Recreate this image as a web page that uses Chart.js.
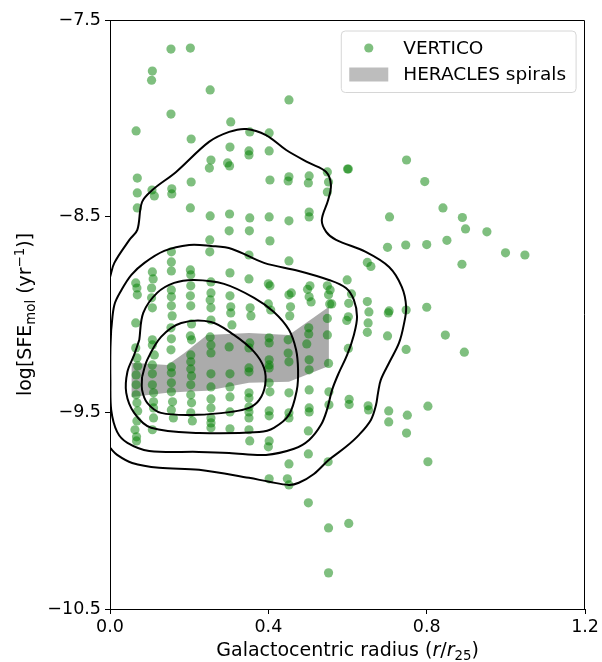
<!DOCTYPE html>
<html>
<head>
<meta charset="utf-8">
<script src="https://cdn.jsdelivr.net/npm/chart.js@4"></script>
<style>
html,body{margin:0;padding:0;background:#fff;}
canvas{display:block;}
</style>
</head>
<body>
<canvas id="c" width="602" height="662"></canvas>
<script>
// ---------------- DATA ----------------
const xTicks = [0.0, 0.4, 0.8, 1.2];
const yTicks = [-10.5, -9.5, -8.5, -7.5];

const verticoLabel = 'VERTICO';
const heraclesLabel = 'HERACLES spirals';

// VERTICO galaxies: galactocentric radius (r/r25)
const verticoR = [
0.066,0.069,0.069,0.069,0.065,0.068,0.069,0.065,0.065,0.068,0.070,0.066,0.066,0.066,0.068,0.070,0.068,0.063,0.067,0.067,
0.106,0.112,0.107,0.109,0.105,0.105,0.107,0.107,0.107,0.112,0.107,0.107,0.107,0.110,0.110,0.110,0.110,0.107,0.107,0.105,
0.154,0.154,0.156,0.156,0.155,0.155,0.155,0.155,0.155,0.155,0.157,0.154,0.155,0.154,0.155,0.155,0.155,0.155,0.158,0.155,0.160,
0.203,0.205,0.205,0.203,0.203,0.204,0.204,0.203,0.204,0.206,0.203,0.206,0.204,0.204,0.204,0.206,0.204,0.204,0.206,0.204,0.208,
0.253,0.255,0.251,0.253,0.252,0.252,0.255,0.255,0.253,0.255,0.255,0.253,0.255,0.255,0.255,0.255,0.255,0.255,0.255,0.255,0.255,
0.305,0.303,0.297,0.302,0.302,0.301,0.303,0.303,0.305,0.305,0.308,0.301,0.303,0.303,0.303,0.303,0.303,
0.353,0.351,0.351,0.353,0.352,0.351,0.351,0.354,0.356,0.353,0.351,0.351,0.351,0.351,0.351,0.351,0.351,0.351,0.351,0.353,
0.402,0.402,0.404,0.402,0.404,0.400,0.404,0.400,0.406,0.402,0.402,0.402,0.402,0.402,0.402,0.404,0.402,0.402,0.402,0.400,0.402,
0.452,0.452,0.450,0.452,0.452,0.458,0.452,0.456,0.454,0.450,0.450,0.452,0.452,0.452,0.452,0.452,0.448,0.452,
0.503,0.501,0.503,0.503,0.505,0.499,0.503,0.508,0.502,0.502,0.497,0.503,0.503,0.503,0.503,0.503,0.501,0.501,0.501,
0.549,0.552,0.549,0.549,0.556,0.552,0.555,0.560,0.549,0.549,0.552,0.553,0.553,0.551,0.552,0.552,
0.600,0.602,0.599,0.610,0.603,0.602,0.598,0.602,0.604,0.604,0.603,
0.650,0.659,0.650,0.654,0.652,0.650,0.652,0.653,
0.706,0.701,0.705,0.703,0.701,0.704,0.704,
0.749,0.747,0.748,0.748,0.751,0.749,
0.795,0.800,0.800,0.803,0.803,
0.841,0.851,0.847,0.890,0.898,0.889,0.895,0.952,0.999,1.048
];
// VERTICO: log SFE_mol (yr^-1)
const verticoSFE = [
-8.065,-8.305,-8.381,-8.457,-8.839,-8.865,-8.900,-9.043,-9.170,-9.221,-9.262,-9.308,-9.358,-9.409,-9.450,-9.491,-9.542,-9.587,-9.623,-9.644,
-8.366,-8.396,-8.783,-8.819,-8.865,-8.915,-8.966,-9.129,-9.155,-9.206,-9.257,-9.302,-9.358,-9.399,-9.445,-9.476,-9.527,-9.587,-7.760,-7.807,
-7.648,-7.979,-8.360,-8.386,-8.681,-8.732,-8.778,-8.875,-8.910,-8.956,-9.007,-9.068,-9.124,-9.180,-9.267,-9.297,-9.348,-9.394,-9.445,-9.486,-9.527,
-7.643,-8.106,-8.325,-8.457,-8.773,-8.798,-8.854,-8.905,-8.956,-9.048,-9.109,-9.129,-9.206,-9.241,-9.277,-9.313,-9.358,-9.409,-9.450,-9.501,-9.542,
-7.856,-8.213,-8.254,-8.498,-8.620,-8.681,-8.834,-8.890,-8.926,-8.966,-9.028,-9.114,-9.155,-9.196,-9.302,-9.369,-9.430,-9.476,-9.527,-9.552,-9.577,
-8.019,-8.147,-8.228,-8.243,-8.488,-8.574,-8.788,-8.905,-8.961,-8.992,-9.053,-9.165,-9.302,-9.369,-9.420,-9.496,-9.582,
-8.070,-8.167,-8.187,-8.508,-8.574,-8.697,-8.819,-8.966,-9.007,-9.145,-9.170,-9.272,-9.292,-9.399,-9.425,-9.471,-9.496,-9.527,-9.587,-9.644,
-8.075,-8.167,-8.315,-8.503,-8.625,-8.844,-8.854,-8.946,-8.977,-9.119,-9.145,-9.231,-9.257,-9.272,-9.348,-9.394,-9.491,-9.516,-9.644,-9.674,-9.837,
-7.907,-8.299,-8.320,-8.523,-8.727,-8.890,-8.900,-8.961,-9.007,-9.129,-9.196,-9.241,-9.399,-9.501,-9.527,-9.761,-9.837,-9.868,
-8.294,-8.330,-8.478,-8.503,-8.854,-8.872,-8.910,-8.936,-9.068,-9.099,-9.150,-9.231,-9.282,-9.384,-9.476,-9.496,-9.593,-9.710,-9.959,
-8.274,-8.325,-8.376,-8.854,-8.875,-8.900,-8.946,-8.946,-9.020,-9.104,-9.249,-9.394,-9.460,-9.750,-10.087,-10.316,
-8.259,-8.259,-8.824,-8.895,-8.943,-9.012,-9.030,-9.173,-9.432,-9.458,-10.064,
-8.735,-8.755,-8.934,-8.987,-9.043,-9.091,-9.465,-9.486,
-8.503,-8.658,-8.982,-8.992,-9.109,-9.491,-9.547,
-8.213,-8.646,-8.977,-9.178,-9.513,-9.604,
-8.323,-8.644,-8.963,-9.467,-9.750,
-8.457,-8.622,-9.105,-8.506,-8.564,-8.744,-9.192,-8.579,-8.686,-8.697
];

// HERACLES spirals band
const heraclesR     = [0.054, 0.145, 0.188, 0.245, 0.351, 0.452, 0.553];
const heraclesUpper = [-9.246,-9.257,-9.196,-9.104,-9.094,-9.104,-8.961];
const heraclesLower = [-9.420,-9.399,-9.394,-9.389,-9.348,-9.343,-9.262];

// Density contours (outer to inner)
const contour1R = [0.000,0.011,0.049,0.069,0.081,0.107,0.167,0.250,0.301,0.344,0.394,0.445,0.503,0.546,0.558,0.551,0.535,0.546,0.571,0.646,0.705,0.737,0.748,0.742,0.730,0.705,0.684,0.677,0.672,0.659,0.629,0.596,0.553,0.515,0.477,0.452,0.402,0.351,0.225,0.124,0.056,0.018,0.000];
const contour1SFE = [-8.810,-8.737,-8.620,-8.569,-8.427,-8.366,-8.274,-8.121,-8.070,-8.055,-8.086,-8.162,-8.228,-8.274,-8.340,-8.417,-8.518,-8.579,-8.620,-8.681,-8.758,-8.859,-8.961,-9.053,-9.145,-9.246,-9.333,-9.399,-9.460,-9.537,-9.613,-9.674,-9.740,-9.812,-9.857,-9.868,-9.852,-9.832,-9.791,-9.781,-9.756,-9.715,-9.679];
const contour2R = [0.003,0.011,0.029,0.054,0.087,0.137,0.200,0.255,0.308,0.389,0.477,0.553,0.596,0.616,0.624,0.616,0.599,0.578,0.561,0.548,0.533,0.503,0.465,0.394,0.301,0.225,0.099,0.044,0.018,0.003,0.001,0.001,0.003];
const contour2SFE = [-9.078,-8.951,-8.875,-8.798,-8.737,-8.676,-8.646,-8.651,-8.666,-8.737,-8.778,-8.824,-8.865,-8.926,-9.012,-9.104,-9.206,-9.297,-9.384,-9.486,-9.562,-9.639,-9.684,-9.715,-9.705,-9.700,-9.695,-9.654,-9.598,-9.486,-9.333,-9.180,-9.078];
const contour3R = [0.074,0.084,0.119,0.162,0.213,0.288,0.364,0.414,0.452,0.470,0.475,0.472,0.452,0.414,0.377,0.225,0.104,0.061,0.041,0.044,0.061,0.074];
const contour3SFE = [-9.129,-8.992,-8.890,-8.839,-8.824,-8.844,-8.915,-8.987,-9.078,-9.180,-9.282,-9.384,-9.511,-9.577,-9.598,-9.603,-9.577,-9.501,-9.399,-9.292,-9.206,-9.129];
const contour4R = [0.081,0.094,0.129,0.180,0.255,0.313,0.364,0.389,0.392,0.377,0.351,0.306,0.220,0.129,0.094,0.081,0.081];
const contour4SFE = [-9.318,-9.231,-9.114,-9.043,-9.038,-9.104,-9.190,-9.272,-9.358,-9.435,-9.476,-9.496,-9.511,-9.501,-9.450,-9.384,-9.318];

const xTitleParts = [{t:'Galactocentric radius ('},{t:'r',i:true},{t:'/'},{t:'r',i:true},{t:'25',sub:true},{t:')'}];
const yTitleParts = [{t:'log[SFE'},{t:'mol',sub:true},{t:' (yr'},{t:'\u22121',sup:true},{t:')]'}];

// ---------------- BUILD ----------------
const pts = (xs, ys) => xs.map((x, i) => ({x: x, y: ys[i]}));
const FONT = '"DejaVu Sans", "Liberation Sans", sans-serif';
const fmt = v => Number(v).toFixed(1).replace('-', '\u2212');

const contourStyle = {
  type: 'line', borderColor: '#000', borderWidth: 2, pointRadius: 0,
  tension: 0.35, fill: false, order: 0, legendShape: null
};

const datasets = [
  { type: 'line', label: heraclesLabel, data: pts(heraclesR, heraclesUpper),
    borderWidth: 0, borderColor: 'rgba(0,0,0,0)', pointRadius: 0, tension: 0,
    backgroundColor: 'rgba(128,128,128,0.66)', fill: '+1', order: 2,
    legendShape: 'rect', legendColor: '#bdbdbd' },
  { type: 'line', label: '', data: pts(heraclesR, heraclesLower),
    borderWidth: 0, borderColor: 'rgba(0,0,0,0)', pointRadius: 0, tension: 0,
    fill: false, order: 2 },
  { type: 'scatter', label: verticoLabel, data: pts(verticoR, verticoSFE),
    backgroundColor: 'rgba(0,128,0,0.5)', borderColor: 'rgba(0,128,0,0.5)', borderWidth: 0,
    pointRadius: 4.6, order: 1, legendShape: 'circle', legendColor: 'rgba(0,128,0,0.5)' },
  Object.assign({ label: 'c1', data: pts(contour1R, contour1SFE) }, contourStyle),
  Object.assign({ label: 'c2', data: pts(contour2R, contour2SFE) }, contourStyle),
  Object.assign({ label: 'c3', data: pts(contour3R, contour3SFE) }, contourStyle),
  Object.assign({ label: 'c4', data: pts(contour4R, contour4SFE) }, contourStyle)
];

function partFont(p, size) {
  const s = (p.sub || p.sup) ? size * 0.7 : size;
  return (p.i ? 'italic ' : '') + s + 'px ' + FONT;
}
function drawRich(ctx, parts, cx, baseY, size) {
  let total = 0;
  parts.forEach(p => { ctx.font = partFont(p, size); total += ctx.measureText(p.t).width; });
  let x = cx - total / 2;
  ctx.textAlign = 'left';
  ctx.textBaseline = 'alphabetic';
  parts.forEach(p => {
    ctx.font = partFont(p, size);
    const dy = p.sub ? size * 0.22 : (p.sup ? -size * 0.38 : 0);
    ctx.fillText(p.t, x, baseY + dy);
    x += ctx.measureText(p.t).width;
  });
}

const framePlugin = {
  id: 'frame',
  afterDatasetsDraw(chart) {
    const {ctx, chartArea: a} = chart;
    ctx.save();
    ctx.strokeStyle = '#000';
    ctx.lineWidth = 1;
    ctx.beginPath();
    ctx.moveTo(a.left, Math.round(a.top) + 0.5);
    ctx.lineTo(Math.round(a.right) - 0.5, Math.round(a.top) + 0.5);
    ctx.lineTo(Math.round(a.right) - 0.5, a.bottom);
    ctx.stroke();
    ctx.restore();
  }
};

const titlesPlugin = {
  id: 'axisTitles',
  afterDraw(chart) {
    const {ctx, chartArea: a} = chart;
    ctx.save();
    ctx.fillStyle = '#000';
    drawRich(ctx, xTitleParts, (a.left + a.right) / 2, a.bottom + 47, 19);
    ctx.translate(31, (a.top + a.bottom) / 2);
    ctx.rotate(-Math.PI / 2);
    drawRich(ctx, yTitleParts, 0, 0, 19);
    ctx.restore();
  }
};

const legendPlugin = {
  id: 'legendBox',
  afterDraw(chart) {
    const {ctx, chartArea: a} = chart;
    const items = chart.data.datasets.filter(d => d.legendShape).sort((p, q) => p.order - q.order);
    const fs = 18.5;
    ctx.save();
    ctx.font = fs + 'px ' + FONT;
    const textW = Math.max.apply(null, items.map(d => ctx.measureText(d.label).width));
    const padL = 8, patchW = 39, gap = 15, padR = 10, rowH = 26.5, padT = 17, padB = 18;
    const w = padL + patchW + gap + textW + padR;
    const h = padT + rowH * (items.length - 1) + padB;
    const x0 = a.right - 9 - w, y0 = a.top + 11, r = 4;
    ctx.beginPath();
    ctx.moveTo(x0 + r, y0);
    ctx.lineTo(x0 + w - r, y0); ctx.arcTo(x0 + w, y0, x0 + w, y0 + r, r);
    ctx.lineTo(x0 + w, y0 + h - r); ctx.arcTo(x0 + w, y0 + h, x0 + w - r, y0 + h, r);
    ctx.lineTo(x0 + r, y0 + h); ctx.arcTo(x0, y0 + h, x0, y0 + h - r, r);
    ctx.lineTo(x0, y0 + r); ctx.arcTo(x0, y0, x0 + r, y0, r);
    ctx.closePath();
    ctx.fillStyle = 'rgba(255,255,255,0.8)';
    ctx.fill();
    ctx.strokeStyle = '#d6d6d6';
    ctx.lineWidth = 1;
    ctx.stroke();
    items.forEach((d, i) => {
      const cy = y0 + padT + i * rowH;
      const px = x0 + padL;
      ctx.fillStyle = d.legendColor;
      if (d.legendShape === 'circle') {
        ctx.beginPath();
        ctx.arc(px + patchW / 2, cy, 4.6, 0, Math.PI * 2);
        ctx.fill();
      } else {
        ctx.fillRect(px, cy - 7, patchW, 14);
      }
      ctx.fillStyle = '#000';
      ctx.textAlign = 'left';
      ctx.textBaseline = 'middle';
      ctx.fillText(d.label, px + patchW + gap, cy + 1);
    });
    ctx.restore();
  }
};

const tickFont = { family: FONT, size: 17.5 };
const gridOpts = { display: true, drawOnChartArea: false, drawTicks: true, tickLength: 5, tickWidth: 1, tickColor: '#000' };

new Chart(document.getElementById('c'), {
  type: 'scatter',
  data: { datasets: datasets },
  options: {
    responsive: false,
    animation: false,
    devicePixelRatio: 1,
    events: [],
    layout: { padding: { top: 20, right: 15, left: 0, bottom: 0 } },
    plugins: { legend: { display: false }, tooltip: { enabled: false } },
    scales: {
      x: {
        type: 'linear', min: 0, max: 1.2,
        afterBuildTicks: s => { s.ticks = xTicks.map(v => ({ value: v })); },
        afterFit: s => { s.height = 53; },
        ticks: { callback: v => fmt(v), font: tickFont, color: '#000', padding: 3, maxRotation: 0, autoSkip: false },
        grid: gridOpts,
        border: { display: true, color: '#000', width: 1 }
      },
      y: {
        type: 'linear', min: -10.5, max: -7.5,
        afterBuildTicks: s => { s.ticks = yTicks.map(v => ({ value: v })); },
        afterFit: s => { s.width = 110; },
        ticks: { callback: v => fmt(v), font: tickFont, color: '#000', padding: 4, autoSkip: false },
        grid: gridOpts,
        border: { display: true, color: '#000', width: 1 }
      }
    }
  },
  plugins: [framePlugin, titlesPlugin, legendPlugin]
});
</script>
</body>
</html>
